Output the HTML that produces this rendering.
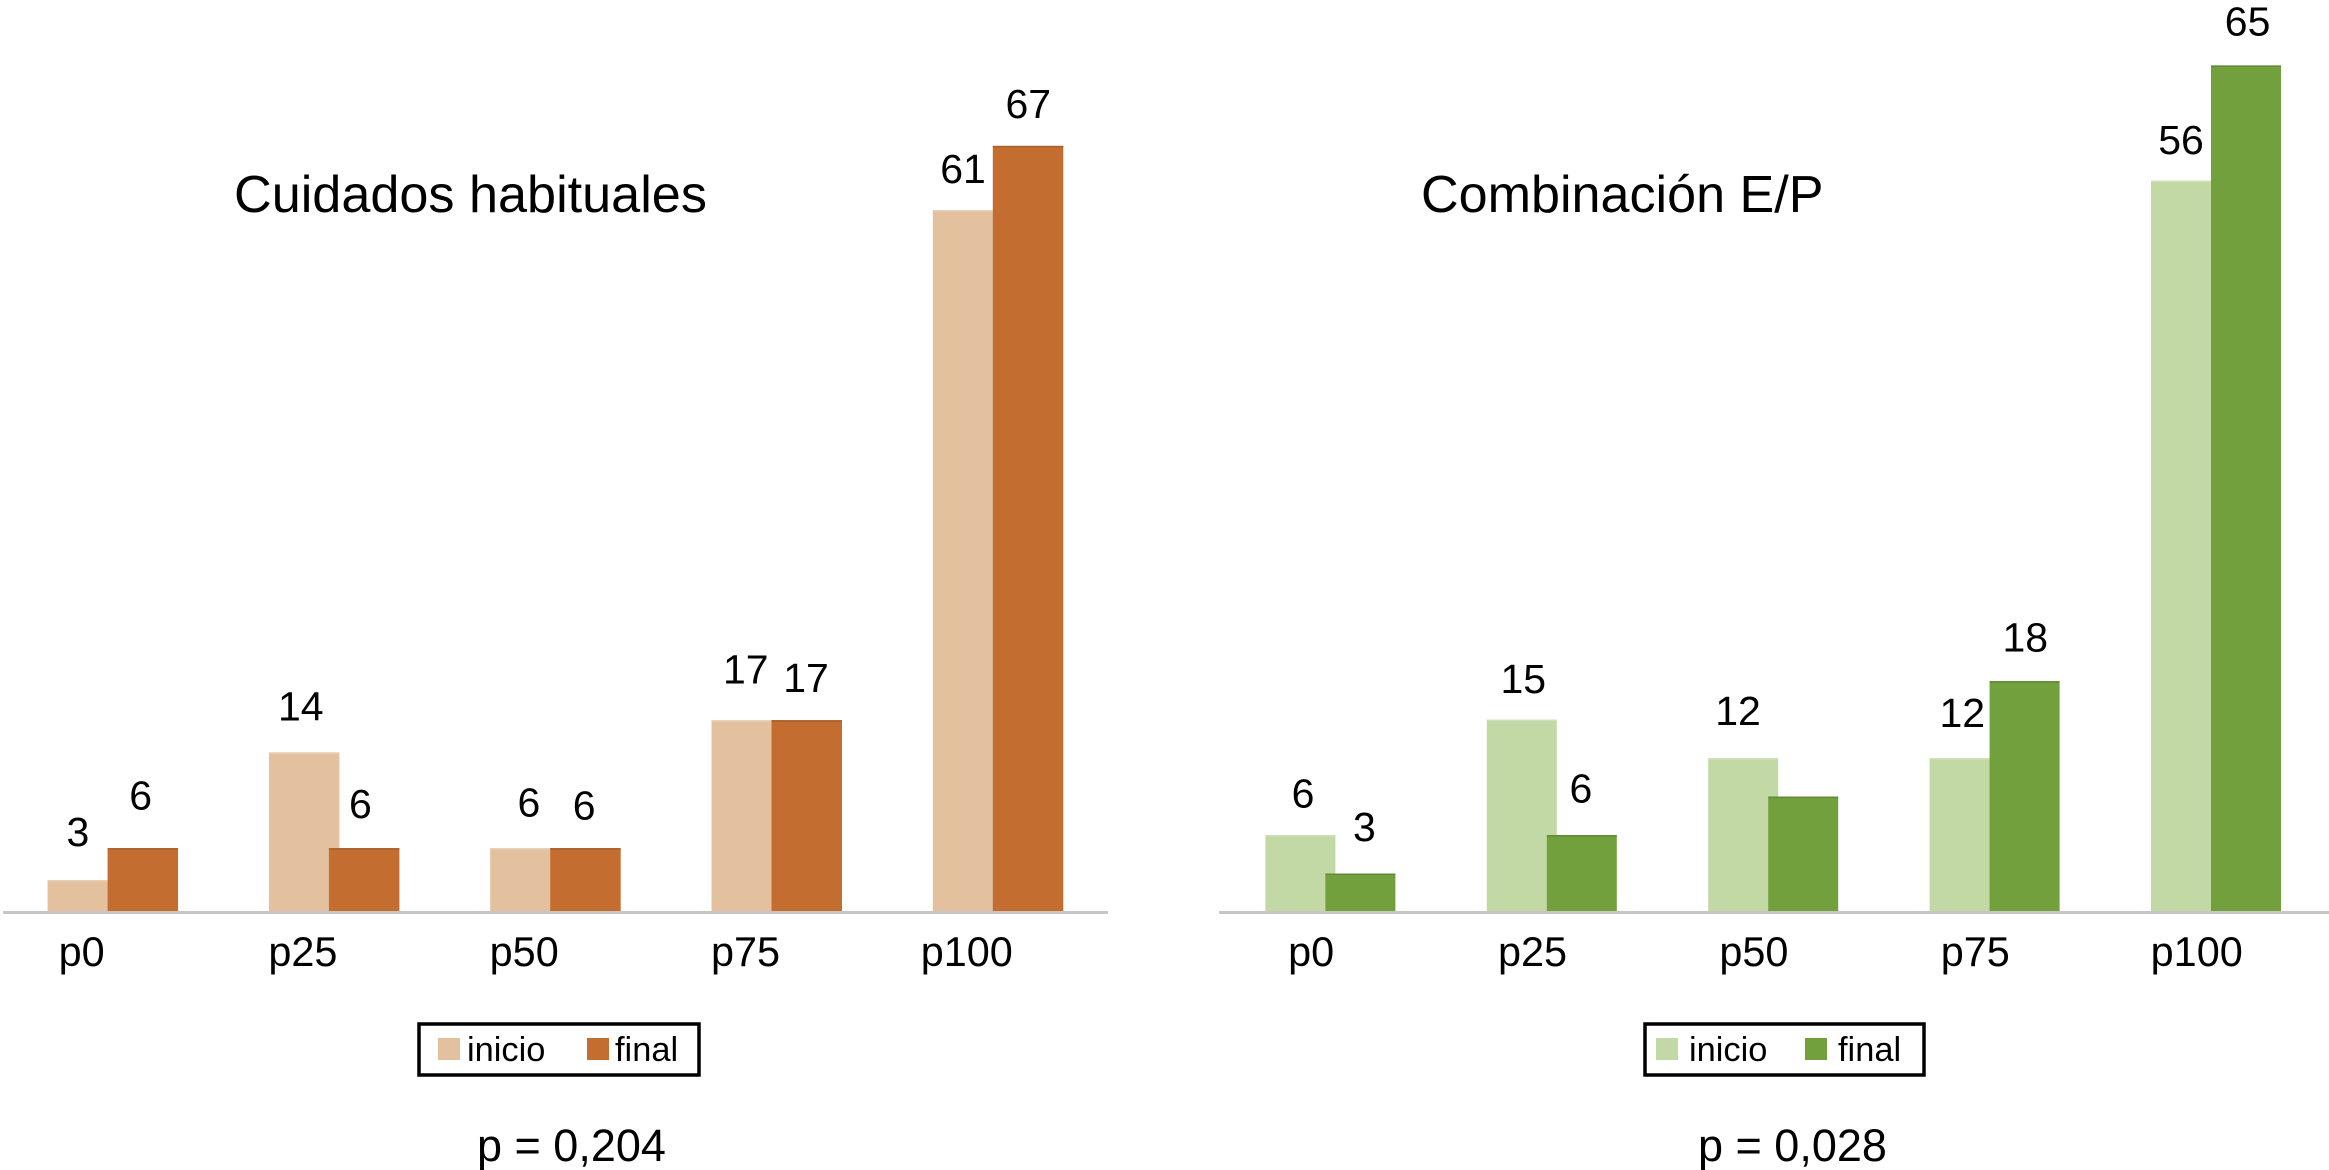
<!DOCTYPE html>
<html lang="es">
<head>
<meta charset="utf-8">
<title>Cuidados habituales y Combinación E/P</title>
<style>
html,body{margin:0;padding:0;background:#fff;width:2329px;height:1170px;overflow:hidden}
svg{display:block}
text{font-family:"Liberation Sans",Arial,sans-serif;fill:#000}
</style>
</head>
<body>
<svg id="figure" xmlns="http://www.w3.org/2000/svg" width="2329" height="1170" viewBox="0 0 2329 1170">
  <g id="left-chart">
    <text x="234" y="212" font-size="52.2">Cuidados habituales</text>
    <g>
      <rect x="419" y="1024" width="280" height="51" fill="#fff" stroke="#000" stroke-width="3.5"/>
      <rect x="438" y="1038" width="22" height="22" fill="#e3c19f"/>
      <text x="467" y="1061" font-size="34.4">inicio</text>
      <rect x="587" y="1038" width="22" height="22" fill="#c36e30"/>
      <text x="615" y="1061" font-size="34.4">final</text>
    </g>
    <text x="477" y="1161" font-size="45">p = 0,204</text>
  </g>
  <g id="right-chart">
    <text x="1421" y="212" font-size="52.1">Combinación E/P</text>
    <g>
      <rect x="1645" y="1024" width="279" height="51" fill="#fff" stroke="#000" stroke-width="3.5"/>
      <rect x="1656" y="1038" width="22" height="22" fill="#c2d9a6"/>
      <text x="1689" y="1061" font-size="34.4">inicio</text>
      <rect x="1805" y="1038" width="22" height="22" fill="#72a03c"/>
      <text x="1838" y="1061" font-size="34.4">final</text>
    </g>
    <text x="1698" y="1161" font-size="45">p = 0,028</text>
  </g>
</svg>
<script>
// Data
var categories = ['p0', 'p25', 'p50', 'p75', 'p100'];
var leftInicio = [2.78, 13.9, 5.56, 16.7, 61.1];
var leftFinal = [5.56, 5.56, 5.56, 16.7, 66.7];
var leftInicioLabels = ['3', '14', '6', '17', '61'];
var leftFinalLabels = ['6', '6', '6', '17', '67'];
var rightInicio = [5.88, 14.7, 11.76, 11.76, 55.9];
var rightFinal = [2.94, 5.88, 8.82, 17.65, 64.7];
var rightInicioLabels = ['6', '15', '12', '12', '56'];
var rightFinalLabels = ['3', '6', '', '18', '65'];

// Layout (hand placement of the printed labels relative to their bars)
var leftLayout = {
  root: 'left-chart', prefix: 'left', yMax: 79.4, axisFrom: 3, axisTo: 1108,
  bandStart: 47.6, bandStep: 221.3, finalShift: 60, barW: 70.5, tickShift: 34,
  colorInicio: '#e3c19f', colorFinal: '#c36e30', edgeInicio: '#e8cfb4', edgeFinal: '#a85f2b',
  nudgeInicio: [[-5, -34], [-3.4, -32], [3.5, -31.7], [-1, -36.6], [-5, -27]],
  nudgeFinal: [[-2.25, -38.7], [-3.75, -30], [-1.25, -28.5], [-0.75, -28], [0.25, -27.7]]
};
var rightLayout = {
  root: 'right-chart', prefix: 'right', yMax: 69.7, axisFrom: 1219, axisTo: 2329,
  bandStart: 1265.4, bandStep: 221.4, finalShift: 60, barW: 70, tickShift: 45.7,
  colorInicio: '#c2d9a6', colorFinal: '#72a03c', edgeInicio: '#cfe0ba', edgeFinal: '#62893a',
  nudgeInicio: [[2.6, -27.5], [1.5, -26.5], [-5.2, -33], [-2.3, -31], [-5, -26.7]],
  nudgeFinal: [[4, -32.4], [-0.9, -32.8], [0, -30], [0.7, -29.6], [1.6, -29.7]]
};

var SVG_NS = 'http://www.w3.org/2000/svg';
var baselineY = 912;
var plotHeight = 912;

function yScale(layout, v) {
  return baselineY - (v / layout.yMax) * plotHeight;
}
function xScale(layout, i) {
  return layout.bandStart + i * layout.bandStep;
}
function svgEl(tag, attrs, parent) {
  var el = document.createElementNS(SVG_NS, tag);
  for (var k in attrs) el.setAttribute(k, attrs[k]);
  parent.appendChild(el);
  return el;
}

function drawBar(layout, parent, x, v, fill, edge, series, cat) {
  var top = yScale(layout, v);
  var bar = svgEl('rect', {x: x, y: top, width: layout.barW, height: baselineY - top, fill: fill}, parent);
  
  
  var cap = svgEl('rect', {x: x, y: top, width: layout.barW, height: 1.5, fill: edge}, parent);
  
  
}

function drawValue(layout, parent, x, v, txt, nudge, series, cat) {
  if (!txt) return;
  var t = svgEl('text', {
    x: x + layout.barW / 2 + nudge[0],
    y: yScale(layout, v) + nudge[1],
    'font-size': 41,
    'text-anchor': 'middle'
  }, parent);
  t.textContent = txt;
  
  
}

function drawChart(layout, inicio, fin, inicioLabels, finLabels) {
  var root = document.getElementById(layout.root);
  var g = svgEl('g', {}, root);
  
  

  categories.forEach(function (cat, i) {
    var x = xScale(layout, i);
    drawBar(layout, g, x, inicio[i], layout.colorInicio, layout.edgeInicio, 'inicio', cat);
    drawBar(layout, g, x + layout.finalShift, fin[i], layout.colorFinal, layout.edgeFinal, 'final', cat);
  });

  var axis = svgEl('line', {x1: layout.axisFrom, x2: layout.axisTo, y1: baselineY + 0.5, y2: baselineY + 0.5, stroke: '#c9c5c2', 'stroke-width': 3}, g);
  
  

  categories.forEach(function (cat, i) {
    var x = xScale(layout, i);
    drawValue(layout, g, x, inicio[i], inicioLabels[i], layout.nudgeInicio[i], 'inicio', cat);
    drawValue(layout, g, x + layout.finalShift, fin[i], finLabels[i], layout.nudgeFinal[i], 'final', cat);
    var tick = svgEl('text', {x: x + layout.tickShift, y: 966, 'font-size': 41.4, 'text-anchor': 'middle'}, g);
    tick.textContent = cat;
    
    
  });
}

drawChart(leftLayout, leftInicio, leftFinal, leftInicioLabels, leftFinalLabels);
drawChart(rightLayout, rightInicio, rightFinal, rightInicioLabels, rightFinalLabels);
</script>
</body>
</html>
